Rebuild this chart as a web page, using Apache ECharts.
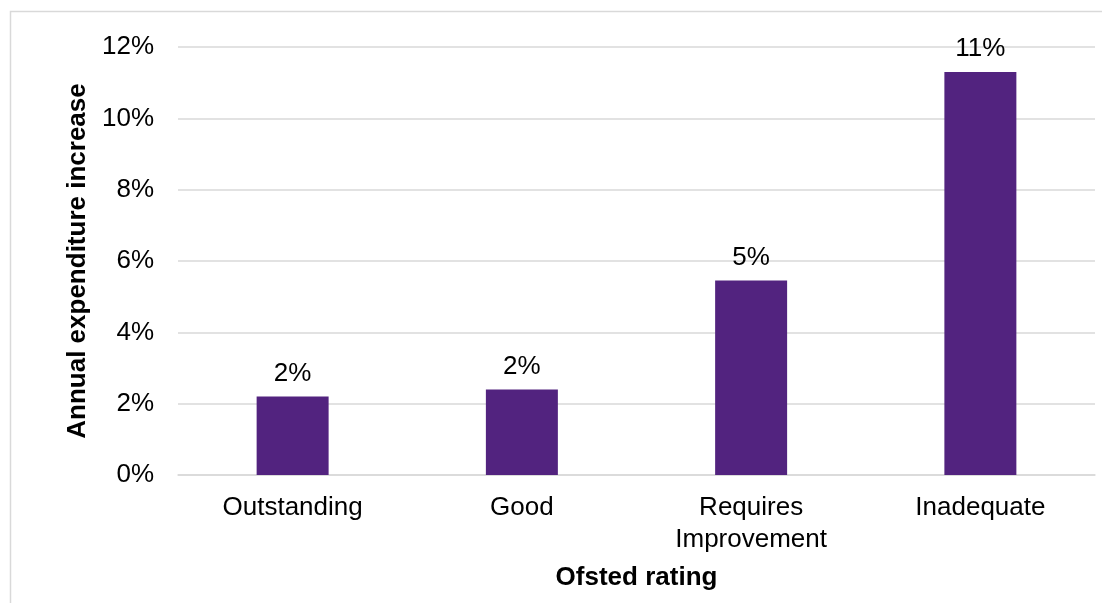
<!DOCTYPE html>
<html>
<head>
<meta charset="utf-8">
<style>
  html, body { margin: 0; padding: 0; background: #ffffff; }
  #chart { width: 1102px; height: 603px; }
</style>
<script src="https://cdn.jsdelivr.net/npm/echarts@6/dist/echarts.min.js"></script>
</head>
<body>
<div id="chart"></div>
<script>
// Ofsted rating categories and annual expenditure increase (%)
const categories = ['Outstanding', 'Good', 'Requires\nImprovement', 'Inadequate'];
const increases = [2.2, 2.4, 5.45, 11.3];
const yTicks = { min: 0, max: 12, interval: 2 };

const FONT = '"Liberation Sans", Arial, sans-serif';
const GRID_COLOR = '#d9d9d9';

const chart = echarts.init(document.getElementById('chart'), null, { renderer: 'canvas' });

chart.setOption({
  backgroundColor: '#ffffff',
  animation: false,
  textStyle: { fontFamily: FONT },
  graphic: [{
    type: 'rect',
    shape: { x: 10.5, y: 11.5, width: 1200, height: 700 },
    style: { fill: 'none', stroke: GRID_COLOR, lineWidth: 1.5 },
    silent: true
  }],
  grid: { left: 178, right: 7, top: 47, bottom: 128 },
  xAxis: {
    type: 'category',
    data: categories,
    name: 'Ofsted rating',
    nameLocation: 'middle',
    nameGap: 90,
    nameTextStyle: { fontFamily: FONT, fontSize: 26, fontWeight: 'bold', color: '#000' },
    axisLine: { show: true, lineStyle: { color: GRID_COLOR, width: 1.5 } },
    axisTick: { show: false },
    axisLabel: { fontFamily: FONT, fontSize: 26, color: '#000', margin: 17, lineHeight: 32 }
  },
  yAxis: {
    type: 'value',
    min: yTicks.min,
    max: yTicks.max,
    interval: yTicks.interval,
    name: 'Annual expenditure increase',
    nameLocation: 'middle',
    nameRotate: 90,
    nameGap: 85,
    nameTextStyle: { fontFamily: FONT, fontSize: 26, fontWeight: 'bold', color: '#000' },
    axisLine: { show: false },
    axisTick: { show: false },
    axisLabel: { fontFamily: FONT, fontSize: 26, color: '#000', margin: 24, formatter: '{value}%' },
    splitLine: { lineStyle: { color: GRID_COLOR, width: 1.5 } }
  },
  series: [{
    type: 'bar',
    data: increases,
    barWidth: '31.4%',
    itemStyle: { color: '#52237f' },
    label: {
      show: true,
      position: 'top',
      distance: 10,
      fontFamily: FONT,
      fontSize: 26,
      color: '#000',
      formatter: p => Math.round(p.value) + '%'
    }
  }]
});
</script>
</body>
</html>
